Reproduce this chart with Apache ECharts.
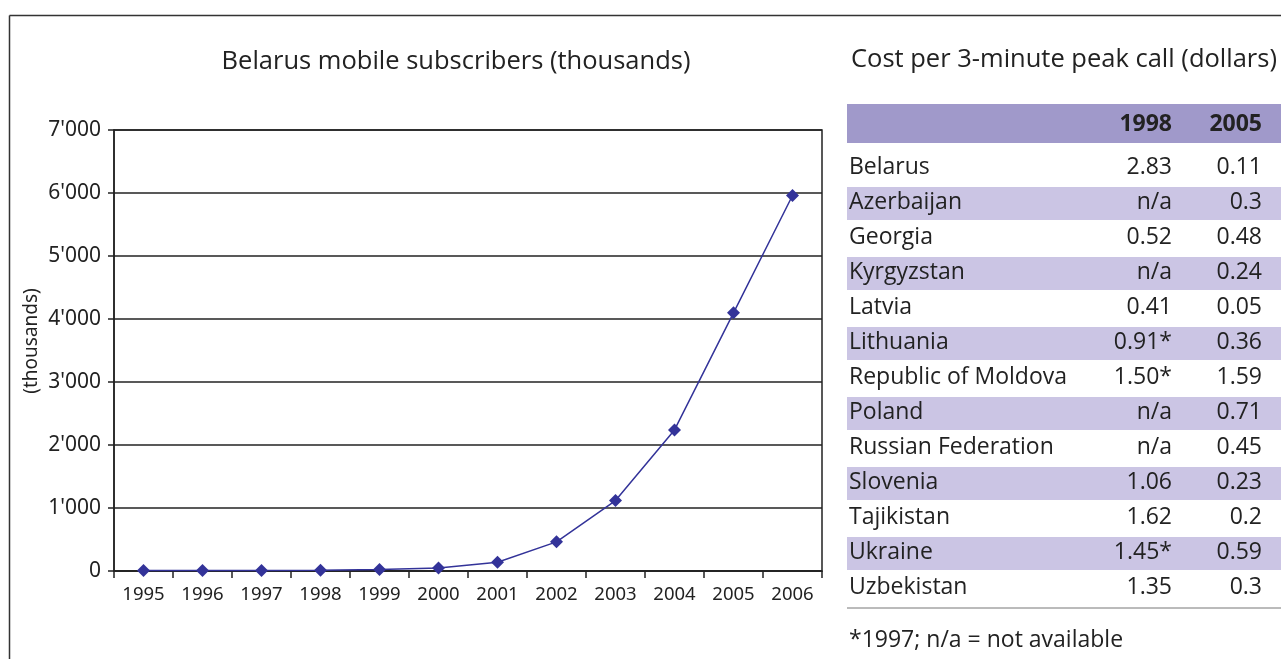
<!DOCTYPE html>
<html>
<head>
<meta charset="utf-8">
<script src="https://cdn.jsdelivr.net/npm/echarts@6/dist/echarts.min.js"></script>
<style>
  html, body { margin: 0; padding: 0; background: #fff; }
  #main { width: 1281px; height: 659px; }
</style>
</head>
<body>
<div id="main"></div>
<script>
// line chart data
var years = ['1995', '1996', '1997', '1998', '1999', '2000', '2001', '2002', '2003', '2004', '2005', '2006'];
var subscribers = [6.5, 7.9, 8.2, 12.2, 23.5, 49.4, 138.3, 462.6, 1118, 2239, 4098, 5960];

// table data
var tableHeader = ['1998', '2005'];
var countries = ['Belarus', 'Azerbaijan', 'Georgia', 'Kyrgyzstan', 'Latvia', 'Lithuania',
  'Republic of Moldova', 'Poland', 'Russian Federation', 'Slovenia', 'Tajikistan', 'Ukraine', 'Uzbekistan'];
var cost1998 = ['2.83', 'n/a', '0.52', 'n/a', '0.41', '0.91*', '1.50*', 'n/a', 'n/a', '1.06', '1.62', '1.45*', '1.35'];
var cost2005 = ['0.11', '0.3', '0.48', '0.24', '0.05', '0.36', '1.59', '0.71', '0.45', '0.23', '0.2', '0.59', '0.3'];

var ink = '#222';
var tFont = '"Open Sans", Lato, sans-serif';
var aFont = '"Noto Sans", "Open Sans", sans-serif';

var chart = echarts.init(document.getElementById('main'));

// table drawn as graphic elements
var g = [];
// outer frame
g.push({ type: 'line', shape: { x1: 9.5, y1: 15.5, x2: 1281, y2: 15.5 }, style: { stroke: '#333', lineWidth: 1.5 } });
g.push({ type: 'line', shape: { x1: 9.5, y1: 15.5, x2: 9.5, y2: 659 }, style: { stroke: '#333', lineWidth: 1.5 } });
// y axis name
g.push({ type: 'text', x: 32, y: 341, rotation: Math.PI / 2, style: { text: '(thousands)', font: '19px ' + aFont, fill: ink, align: 'center', verticalAlign: 'middle' } });
g.push({ type: 'text', x: 851, y: 60, style: { text: 'Cost per 3-minute peak call (dollars)', font: '25.5px ' + tFont, fill: ink, verticalAlign: 'middle' } });
g.push({ type: 'rect', shape: { x: 847, y: 104, width: 434, height: 39 }, style: { fill: '#A099CA' } });
g.push({ type: 'text', x: 1172, y: 124, style: { text: tableHeader[0], font: 'bold 23px ' + tFont, fill: ink, align: 'right', verticalAlign: 'middle' } });
g.push({ type: 'text', x: 1262, y: 124, style: { text: tableHeader[1], font: 'bold 23px ' + tFont, fill: ink, align: 'right', verticalAlign: 'middle' } });
var rowTop = 152, rowH = 35;
countries.forEach(function (c, i) {
  var top = rowTop + rowH * i;
  if (i % 2 === 1) {
    g.push({ type: 'rect', shape: { x: 847, y: top, width: 434, height: 33 }, style: { fill: '#CBC5E4' } });
  }
  var cy = top + 15;
  g.push({ type: 'text', x: 849, y: cy, style: { text: c, font: '23px ' + tFont, fill: ink, verticalAlign: 'middle' } });
  g.push({ type: 'text', x: 1172, y: cy, style: { text: cost1998[i], font: '23px ' + tFont, fill: ink, align: 'right', verticalAlign: 'middle' } });
  g.push({ type: 'text', x: 1262, y: cy, style: { text: cost2005[i], font: '23px ' + tFont, fill: ink, align: 'right', verticalAlign: 'middle' } });
});
g.push({ type: 'line', shape: { x1: 847, y1: 608, x2: 1281, y2: 608 }, style: { stroke: '#777', lineWidth: 1 } });
g.push({ type: 'text', x: 849, y: 640, style: { text: '*1997; n/a = not available', font: '23px ' + tFont, fill: ink, verticalAlign: 'middle' } });

var option = {
  animation: false,
  title: {
    text: 'Belarus mobile subscribers (thousands)',
    left: 451, top: 44, textAlign: 'center',
    textStyle: { fontFamily: tFont, fontSize: 25.5, fontWeight: 'normal', color: ink }
  },
  grid: {
    left: 114, right: 459, top: 130, bottom: 88,
    show: true, borderColor: ink, borderWidth: 1.5
  },
  xAxis: {
    type: 'category',
    data: years,
    boundaryGap: true,
    axisLine: { lineStyle: { color: ink, width: 1.5 } },
    axisTick: { show: true, interval: 0, length: 7, lineStyle: { color: ink, width: 1.5 } },
    axisLabel: { interval: 0, margin: 14, fontFamily: aFont, fontSize: 18.5, color: ink }
  },
  yAxis: {
    type: 'value',
    min: 0, max: 7000, interval: 1000,
    axisLine: { show: true, lineStyle: { color: ink, width: 1.5 } },
    axisTick: { show: true, length: 6, lineStyle: { color: ink, width: 1.5 } },
    splitLine: { show: true, lineStyle: { color: ink, width: 1.5 } },
    axisLabel: {
      margin: 13, fontFamily: aFont, fontSize: 21, color: ink,
      formatter: function (v) {
        if (v === 0) return '0';
        return Math.floor(v / 1000) + "'" + String(v % 1000).padStart(3, '0');
      }
    }
  },
  series: [{
    type: 'line',
    data: subscribers,
    symbol: 'diamond',
    symbolSize: 13,
    lineStyle: { color: '#333399', width: 1.5 },
    itemStyle: { color: '#333399' }
  }],
  graphic: g
};
chart.setOption(option);
</script>
</body>
</html>
